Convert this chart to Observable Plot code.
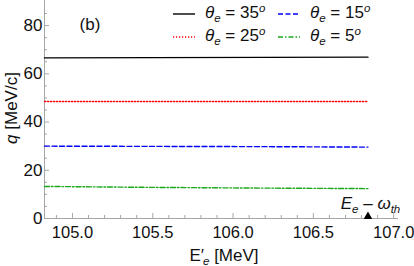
<!DOCTYPE html>
<html>
<head>
<meta charset="utf-8">
<script src="https://cdn.jsdelivr.net/npm/d3@7"></script>
<script src="https://cdn.jsdelivr.net/npm/@observablehq/plot@0.6"></script>
<style>
  html, body { margin: 0; padding: 0; background: #fff; }
  #wrap { position: relative; width: 414px; height: 266px; font-family: "Liberation Sans", Arial, sans-serif; }
  .leg { position: absolute; font-size: 17px; color: #111; white-space: nowrap; line-height: 1; }
  .leg i { font-style: italic; }
  .leg sub { font-size: 11.5px; font-style: italic; vertical-align: -4px; line-height: 0; }
  .leg sup { font-size: 11.5px; font-style: italic; vertical-align: 6px; line-height: 0; }
</style>
</head>
<body>
<div id="wrap"></div>
<script>
// ---- data ----
const ePrime = [104.826, 105.5, 106.2, 106.84];      // E'_e [MeV]
const q35 = [66.6, 66.7, 66.8, 66.9];
const q25 = [48.5, 48.5, 48.5, 48.5];
const q15 = [30.0, 29.9, 29.8, 29.6];
const q5  = [13.3, 12.9, 12.6, 12.4];
const threshold = 106.84;                            // E_e - omega_th
const xTicks = [105.0, 105.5, 106.0, 106.5, 107.0];
const yTicks = [0, 20, 40, 60, 80];
const xDomain = [104.826, 107.03];
const yDomain = [0, 90.4];

const series = [
  {name: "35", q: q35, color: "#000000", dash: null},
  {name: "25", q: q25, color: "#ff0000", dash: "1.2,1.8"},
  {name: "15", q: q15, color: "#0000ff", dash: "5,2.5"},
  {name: "5",  q: q5,  color: "#1aa81a", dash: "5,2,1.5,2"}
];

const xMinor = d3.range(104.9, 107.01, 0.1).map(v => +v.toFixed(2)).filter(v => !xTicks.some(t => Math.abs(t - v) < 1e-6));
const yMinor = d3.range(5, 90, 5).filter(v => v % 20 !== 0);

const W = 414, H = 266, mL = 44, mR = 16, mT = 0, mB = 48;
const fw = W - mL - mR, fh = H - mT - mB;
const axisColor = "#a6a6a6";

const marks = [];
marks.push(Plot.ruleY([0], {stroke: axisColor, strokeWidth: 1}));
marks.push(Plot.ruleX([xDomain[0]], {stroke: axisColor, strokeWidth: 1}));
marks.push(Plot.tickY(yTicks, {y: d => d, stroke: axisColor, insetRight: fw - 5}));
marks.push(Plot.tickY(yMinor, {y: d => d, stroke: axisColor, insetRight: fw - 3}));
marks.push(Plot.tickX(xTicks, {x: d => d, stroke: axisColor, insetTop: fh - 5}));
marks.push(Plot.tickX(xMinor, {x: d => d, stroke: axisColor, insetTop: fh - 3}));
marks.push(Plot.axisY({ticks: yTicks, tickSize: 0, tickPadding: 2, label: null, fill: "#111", fontSize: 17}));
marks.push(Plot.axisX({ticks: xTicks, tickSize: 0, tickPadding: 8, label: null, fill: "#111", fontSize: 16.5, tickFormat: d3.format(".1f")}));
for (const s of series) {
  const rows = ePrime.map((x, i) => ({x, q: s.q[i]}));
  marks.push(Plot.line(rows, {x: "x", y: "q", stroke: s.color, strokeWidth: 1.4, strokeDasharray: s.dash}));
}
marks.push(Plot.dot([threshold], {x: d => d, y: () => 0, symbol: "triangle", r: 3.2, fill: "#000", dy: -2}));

const plot = Plot.plot({
  width: W, height: H,
  marginLeft: mL, marginRight: mR, marginTop: mT, marginBottom: mB,
  x: {domain: xDomain},
  y: {domain: yDomain},
  style: {fontFamily: "'Liberation Sans', Arial, sans-serif", fontSize: "17px", background: "#fff", overflow: "visible"},
  marks
});
const wrap = document.getElementById("wrap");
wrap.appendChild(plot);

const svg = d3.select(plot.tagName.toLowerCase() === "svg" ? plot : plot.querySelector("svg"));
const sx = plot.scale("x"), sy = plot.scale("y");

// threshold label
const tl = svg.append("text").attr("x", sx.apply(threshold) + 3).attr("y", sy.apply(0) - 9)
  .attr("text-anchor", "middle").attr("font-size", 17).attr("fill", "#111");
tl.append("tspan").attr("font-style", "italic").text("E");
tl.append("tspan").attr("font-style", "italic").attr("font-size", 11.5).attr("dy", 4).text("e");
tl.append("tspan").attr("dy", -4).text(" \u2013 ");
tl.append("tspan").attr("font-style", "italic").text("\u03c9");
tl.append("tspan").attr("font-style", "italic").attr("font-size", 11.5).attr("dy", 4).text("th");

// x label
const xl = svg.append("text").attr("x", mL + fw / 2 + 3).attr("y", H - 5)
  .attr("text-anchor", "middle").attr("font-size", 17).attr("fill", "#111");
xl.append("tspan").text("E\u2032");
xl.append("tspan").attr("font-style", "italic").attr("font-size", 11.5).attr("dy", 4).attr("dx", -1).text("e");
xl.append("tspan").attr("dy", -4).text(" [MeV]");

// y label
const yl = svg.append("text").attr("transform", `translate(17,${108}) rotate(-90)`)
  .attr("text-anchor", "middle").attr("font-size", 17).attr("fill", "#111");
yl.append("tspan").attr("font-style", "italic").text("q");
yl.append("tspan").text(" [MeV/c]");

// panel tag
svg.append("text").attr("x", 90).attr("y", 30).attr("text-anchor", "middle")
  .attr("font-size", 17).attr("fill", "#111").text("(b)");

// legend (HTML overlay)
const legPos = [
  {s: series[0], left: 173, top: 4},
  {s: series[2], left: 278, top: 4},
  {s: series[1], left: 173, top: 27},
  {s: series[3], left: 278, top: 27}
];
for (const p of legPos) {
  const d = document.createElement("div");
  d.className = "leg";
  d.style.left = p.left + "px";
  d.style.top = p.top + "px";
  const dash = p.s.dash ? `stroke-dasharray="${p.s.dash}"` : "";
  d.innerHTML = `<svg width="22" height="16" style="vertical-align:middle;margin-right:10px"><line x1="0" x2="22" y1="8" y2="8" stroke="${p.s.color}" stroke-width="1.4" ${dash}/></svg><i>\u03b8</i><sub>e</sub> = ${p.s.name}<sup>o</sup>`;
  wrap.appendChild(d);
}
</script>
</body>
</html>
